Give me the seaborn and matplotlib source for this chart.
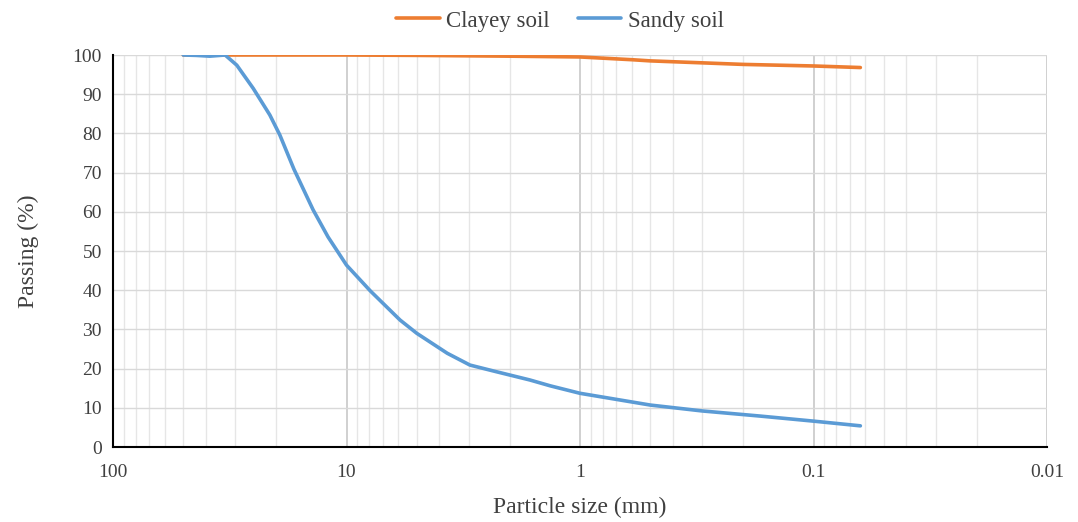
import matplotlib
matplotlib.use("Agg")
import matplotlib.pyplot as plt
import seaborn as sns
import pandas as pd
import numpy as np
from matplotlib.ticker import LogLocator, NullFormatter

# Data
clay_size = [50, 37.5, 20, 10, 5, 2, 1.0, 0.6, 0.5, 0.3, 0.2, 0.1, 0.063]
clay_pass = [100, 100, 100, 100, 99.9, 99.7, 99.5, 98.8, 98.5, 98.0, 97.6, 97.2, 96.8]

sandy_size = [50, 44, 38.5, 33.1, 29.5, 25.1, 21.3, 19.3, 16.8, 13.9, 12.0,
              10.0, 7.9, 5.9, 5.0, 3.7, 2.96, 2.28, 1.64, 1.34, 1.0, 0.5,
              0.3, 0.17, 0.1, 0.063]
sandy_pass = [100, 99.9, 99.7, 100, 97.4, 91.5, 84.7, 79.6, 70.9, 60.5, 53.6,
              46.4, 39.8, 32.4, 29.0, 23.9, 20.9, 19.2, 17.1, 15.6, 13.7, 10.7,
              9.2, 7.9, 6.6, 5.4]

series_names = ["Clayey soil", "Sandy soil"]
x_ticks = [100, 10, 1, 0.1, 0.01]
x_tick_labels = ["100", "10", "1", "0.1", "0.01"]
y_ticks = list(range(0, 101, 10))

df = pd.concat([
    pd.DataFrame({"size": clay_size, "passing": clay_pass, "soil": series_names[0]}),
    pd.DataFrame({"size": sandy_size, "passing": sandy_pass, "soil": series_names[1]}),
], ignore_index=True)

sns.set_theme(style="white")
plt.rcParams['font.family'] = ['Liberation Serif', 'DejaVu Serif']
text_color = "#404040"

fig = plt.figure(figsize=(10.78, 5.22), dpi=100)
ax = fig.add_axes([113/1078, 1-447/522, (1047-113)/1078, (447-55)/522])

sns.lineplot(data=df, x="size", y="passing", hue="soil", sort=False,
             palette={"Clayey soil": "#ED7D31", "Sandy soil": "#5B9BD5"},
             linewidth=2.6, ax=ax, legend=True, estimator=None,
             solid_joinstyle="round", solid_capstyle="round")

ax.set_xscale("log")
ax.set_xlim(100, 0.01)
ax.set_ylim(0, 100)

# gridlines
ax.xaxis.set_minor_locator(LogLocator(base=10, subs=np.arange(2, 10), numticks=50))
ax.xaxis.set_minor_formatter(NullFormatter())
ax.set_xticks(x_ticks)
ax.set_xticklabels(x_tick_labels)
ax.set_yticks(y_ticks)
ax.grid(which="major", axis="x", color="#C8C8C8", linewidth=1.2)
ax.grid(which="minor", axis="x", color="#E6E6E6", linewidth=1.0)
ax.grid(which="major", axis="y", color="#D9D9D9", linewidth=1.0)
ax.set_axisbelow(True)

for s in ["top", "right"]:
    ax.spines[s].set_visible(False)
ax.spines["left"].set_color("black")
ax.spines["bottom"].set_color("black")
ax.spines["left"].set_linewidth(1.5)
ax.spines["bottom"].set_linewidth(1.5)
ax.tick_params(axis="both", which="both", length=0, labelsize=14, colors=text_color)
ax.tick_params(axis="x", pad=12)
ax.tick_params(axis="y", pad=8)

ax.set_xlabel("Particle size (mm)", fontsize=17, color=text_color, labelpad=12)
ax.set_ylabel("Passing (%)", fontsize=17, color=text_color, labelpad=24)

handles, labels = ax.get_legend_handles_labels()
ax.legend(handles, labels, loc="center", bbox_to_anchor=(560/1078, 1-21/522),
          bbox_transform=fig.transFigure, ncol=2, frameon=False, fontsize=16.5,
          handlelength=1.9, columnspacing=1.2, handletextpad=0.3,
          labelcolor=text_color)

fig.savefig("out.png", dpi=100)
